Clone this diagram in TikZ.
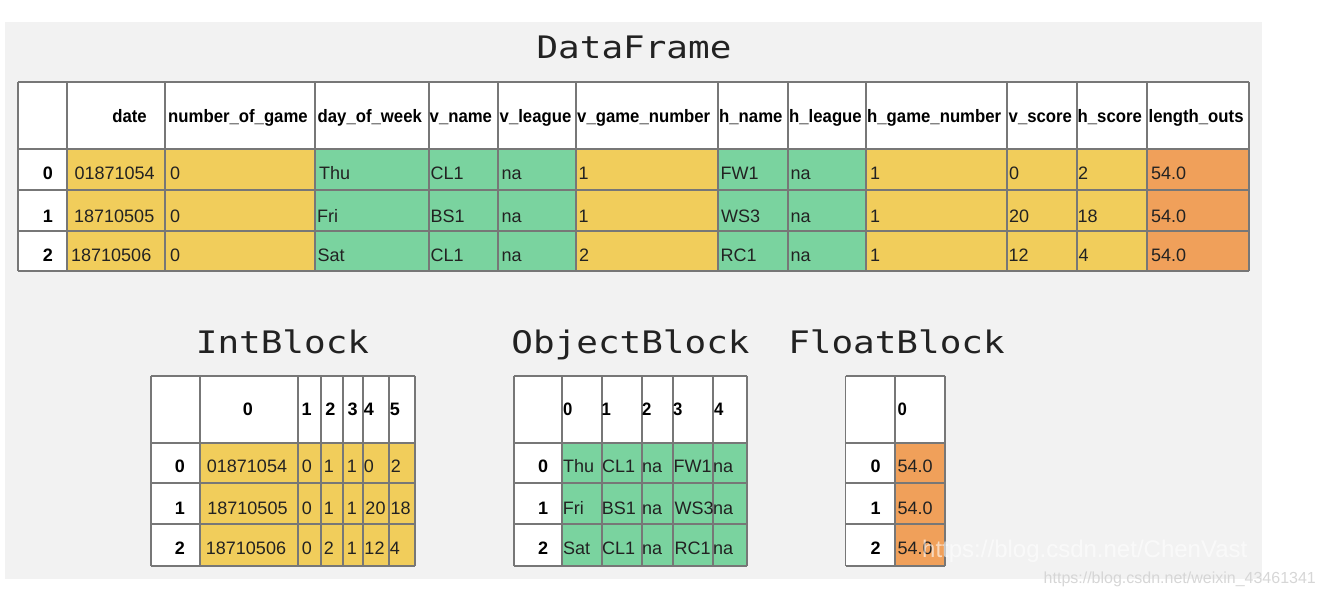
\documentclass[tikz,border=0pt]{standalone}
\usepackage{fontspec}
\setmainfont{Liberation Sans}
\newfontfamily\titlefont[FakeStretch=1.16]{DejaVu Sans Mono}
\newfontfamily\hdfont[FakeStretch=0.93]{Liberation Sans}
\definecolor{bgc}{HTML}{F2F2F2}
\definecolor{yel}{HTML}{F1CD5B}
\definecolor{grn}{HTML}{7AD39F}
\definecolor{org}{HTML}{F0A05A}
\definecolor{gridc}{HTML}{777777}
\definecolor{txt}{HTML}{222222}
\definecolor{wmgray}{HTML}{D6D6D6}
\begin{document}
\begin{tikzpicture}[x=1pt,y=-1pt,
  title/.style={font=\titlefont\fontsize{31}{31}\selectfont, text=txt, anchor=base, inner sep=0pt},
  hd/.style={font=\hdfont\bfseries\fontsize{18}{18}\selectfont, text=black, inner sep=0pt, anchor=base west},
  cell/.style={font=\fontsize{18}{18}\selectfont, text=txt, inner sep=0pt, anchor=base west},
  ccell/.style={font=\fontsize{18}{18}\selectfont, text=txt, inner sep=0pt, anchor=base},
  idx/.style={font=\bfseries\fontsize{18}{18}\selectfont, text=black, inner sep=0pt, anchor=base},
  gridline/.style={draw=gridc, line width=1.3pt},
]
\useasboundingbox (0,0) rectangle (1323,595);
\fill[bgc] (5,22) rectangle (1262,579);

% ---------------- DataFrame ----------------
\node[title] (t-df) at (634,58) {DataFrame};
\fill[white] (18,82) rectangle (1249,149);
\fill[white] (18,149) rectangle (67,271);
\foreach \a/\b/\c in {67/165/yel,165/315/yel,315/429/grn,429/498/grn,498/576/grn,576/718/yel,718/788/grn,788/866/grn,866/1007/yel,1007/1077/yel,1077/1147/yel,1147/1249/org}
  \fill[\c] (\a,149) rectangle (\b,271);
\foreach \x in {18,67,165,315,429,498,576,718,788,866,1007,1077,1147,1249}
  \draw[gridline] (\x,82) -- (\x,271);
\foreach \y in {82,149,190,231,271}
  \draw[gridline] (18,\y) -- (1249,\y);

\node[hd,anchor=base east] (df-h1) at (147,122) {date};
\foreach \x/\t/\n in {168/number\_of\_game/2,317.5/day\_of\_week/3,429.5/v\_name/4,499.5/v\_league/5,577/v\_game\_number/6,719/h\_name/7,789/h\_league/8,867/h\_game\_number/9,1008.5/v\_score/10,1077.5/h\_score/11,1148.5/length\_outs/12}
  \node[hd] (df-h\n) at (\x,122) {\t};

\foreach \r/\y in {0/179,1/222,2/261}
  \node[idx] (df-i\r) at (48,\y) {\r};

% row 0
\node[cell] (df-00) at (74.3,179) {01871054};
\node[cell] (df-01) at (170,179) {0};
\node[cell] (df-02) at (319,179) {Thu};
\node[cell] (df-03) at (430.5,179) {CL1};
\node[cell] (df-04) at (501.5,179) {na};
\node[cell] (df-05) at (578.5,179) {1};
\node[cell] (df-06) at (720.5,179) {FW1};
\node[cell] (df-07) at (790.5,179) {na};
\node[cell] (df-08) at (870,179) {1};
\node[cell] (df-09) at (1009,179) {0};
\node[cell] (df-010) at (1078,179) {2};
\node[cell] (df-011) at (1151,179) {54.0};
% row 1
\node[cell] (df-10) at (74,222) {18710505};
\node[cell] (df-11) at (170,222) {0};
\node[cell] (df-12) at (317,222) {Fri};
\node[cell] (df-13) at (430.5,222) {BS1};
\node[cell] (df-14) at (501.5,222) {na};
\node[cell] (df-15) at (578.5,222) {1};
\node[cell] (df-16) at (721,222) {WS3};
\node[cell] (df-17) at (790.5,222) {na};
\node[cell] (df-18) at (870,222) {1};
\node[cell] (df-19) at (1009,222) {20};
\node[cell] (df-110) at (1077.5,222) {18};
\node[cell] (df-111) at (1151,222) {54.0};
% row 2
\node[cell] (df-20) at (71,261) {18710506};
\node[cell] (df-21) at (170,261) {0};
\node[cell] (df-22) at (317.5,261) {Sat};
\node[cell] (df-23) at (430.5,261) {CL1};
\node[cell] (df-24) at (501.5,261) {na};
\node[cell] (df-25) at (579,261) {2};
\node[cell] (df-26) at (720.5,261) {RC1};
\node[cell] (df-27) at (790.5,261) {na};
\node[cell] (df-28) at (870,261) {1};
\node[cell] (df-29) at (1008.5,261) {12};
\node[cell] (df-210) at (1078.5,261) {4};
\node[cell] (df-211) at (1151,261) {54.0};

% ---------------- IntBlock ----------------
\node[title] (t-int) at (282.5,353) {IntBlock};
\fill[white] (151,376) rectangle (415,443);
\fill[white] (151,443) rectangle (200,566);
\fill[yel] (200,443) rectangle (415,566);
\foreach \x in {151,200,298,321,343,363,389,415}
  \draw[gridline] (\x,376) -- (\x,566);
\foreach \y in {376,443,483,524,566}
  \draw[gridline] (151,\y) -- (415,\y);
\foreach \x/\t in {248/0,306.7/1,330.5/2,352.7/3,369/4,395/5}
  \node[idx] (ib-h\t) at (\x,415) {\t};
\foreach \r/\y in {0/472,1/514,2/554}
  \node[idx] (ib-i\r) at (180,\y) {\r};
\foreach \x/\t/\n in {247/01871054/0,307/0/1,329/1/2,352/1/3,369/0/4,396/2/5}
  \node[ccell] (ib-0\n) at (\x,472) {\t};
\foreach \x/\t/\n in {247.5/18710505/0,307/0/1,329/1/2,352/1/3,375.5/20/4,400.7/18/5}
  \node[ccell] (ib-1\n) at (\x,514) {\t};
\foreach \x/\t/\n in {246/18710506/0,307/0/1,329/2/2,352/1/3,374.5/12/4,395/4/5}
  \node[ccell] (ib-2\n) at (\x,554) {\t};

% ---------------- ObjectBlock ----------------
\node[title] (t-obj) at (630.5,353) {ObjectBlock};
\fill[white] (514,376) rectangle (747,443);
\fill[white] (514,443) rectangle (562,566);
\fill[grn] (562,443) rectangle (747,566);
\foreach \x in {514,562,602,642,673,713,747}
  \draw[gridline] (\x,376) -- (\x,566);
\foreach \y in {376,443,483,524,566}
  \draw[gridline] (514,\y) -- (747,\y);
\foreach \x/\t in {563/0,601.5/1,642/2,673/3,714/4}
  \node[hd] (ob-h\t) at (\x,415) {\t};
\foreach \r/\y in {0/472,1/514,2/554}
  \node[idx] (ob-i\r) at (543,\y) {\r};
\foreach \x/\t/\n in {563/Thu/0,602/CL1/1,642/na/2,673.5/FW1/3,713/na/4}
  \node[cell] (ob-0\n) at (\x,472) {\t};
\foreach \x/\t/\n in {562.6/Fri/0,601.6/BS1/1,642/na/2,674.5/WS3/3,713/na/4}
  \node[cell] (ob-1\n) at (\x,514) {\t};
\foreach \x/\t/\n in {563/Sat/0,602/CL1/1,642/na/2,674.5/RC1/3,713/na/4}
  \node[cell] (ob-2\n) at (\x,554) {\t};

% ---------------- FloatBlock ----------------
\node[title] (t-flt) at (896.5,353) {FloatBlock};
\fill[white] (845.5,376) rectangle (945,443);
\fill[white] (845.5,443) rectangle (895,566);
\fill[org] (895,443) rectangle (945,566);
\foreach \x in {845.5,895,945}
  \draw[gridline] (\x,376) -- (\x,566);
\foreach \y in {376,443,483,524,566}
  \draw[gridline] (845.5,\y) -- (945,\y);
\node[hd] (fb-h0) at (897.5,415) {0};
\foreach \r/\y in {0/472,1/514,2/554}{
  \node[idx] (fb-i\r) at (875.5,\y) {\r};
  \node[cell] (fb-\r) at (897.5,\y) {54.0};
}

% ---------------- watermarks ----------------
\node[font=\fontsize{24}{24}\selectfont, text=white, text opacity=0.6, inner sep=0pt, anchor=base west] (wm1) at (922,557) {https://blog.csdn.net/ChenVast};
\node[font=\fontsize{16}{16}\selectfont, text=wmgray, inner sep=0pt, anchor=base west] (wm2) at (1043.5,583) {https://blog.csdn.net/weixin\_43461341};
\end{tikzpicture}
\end{document}
